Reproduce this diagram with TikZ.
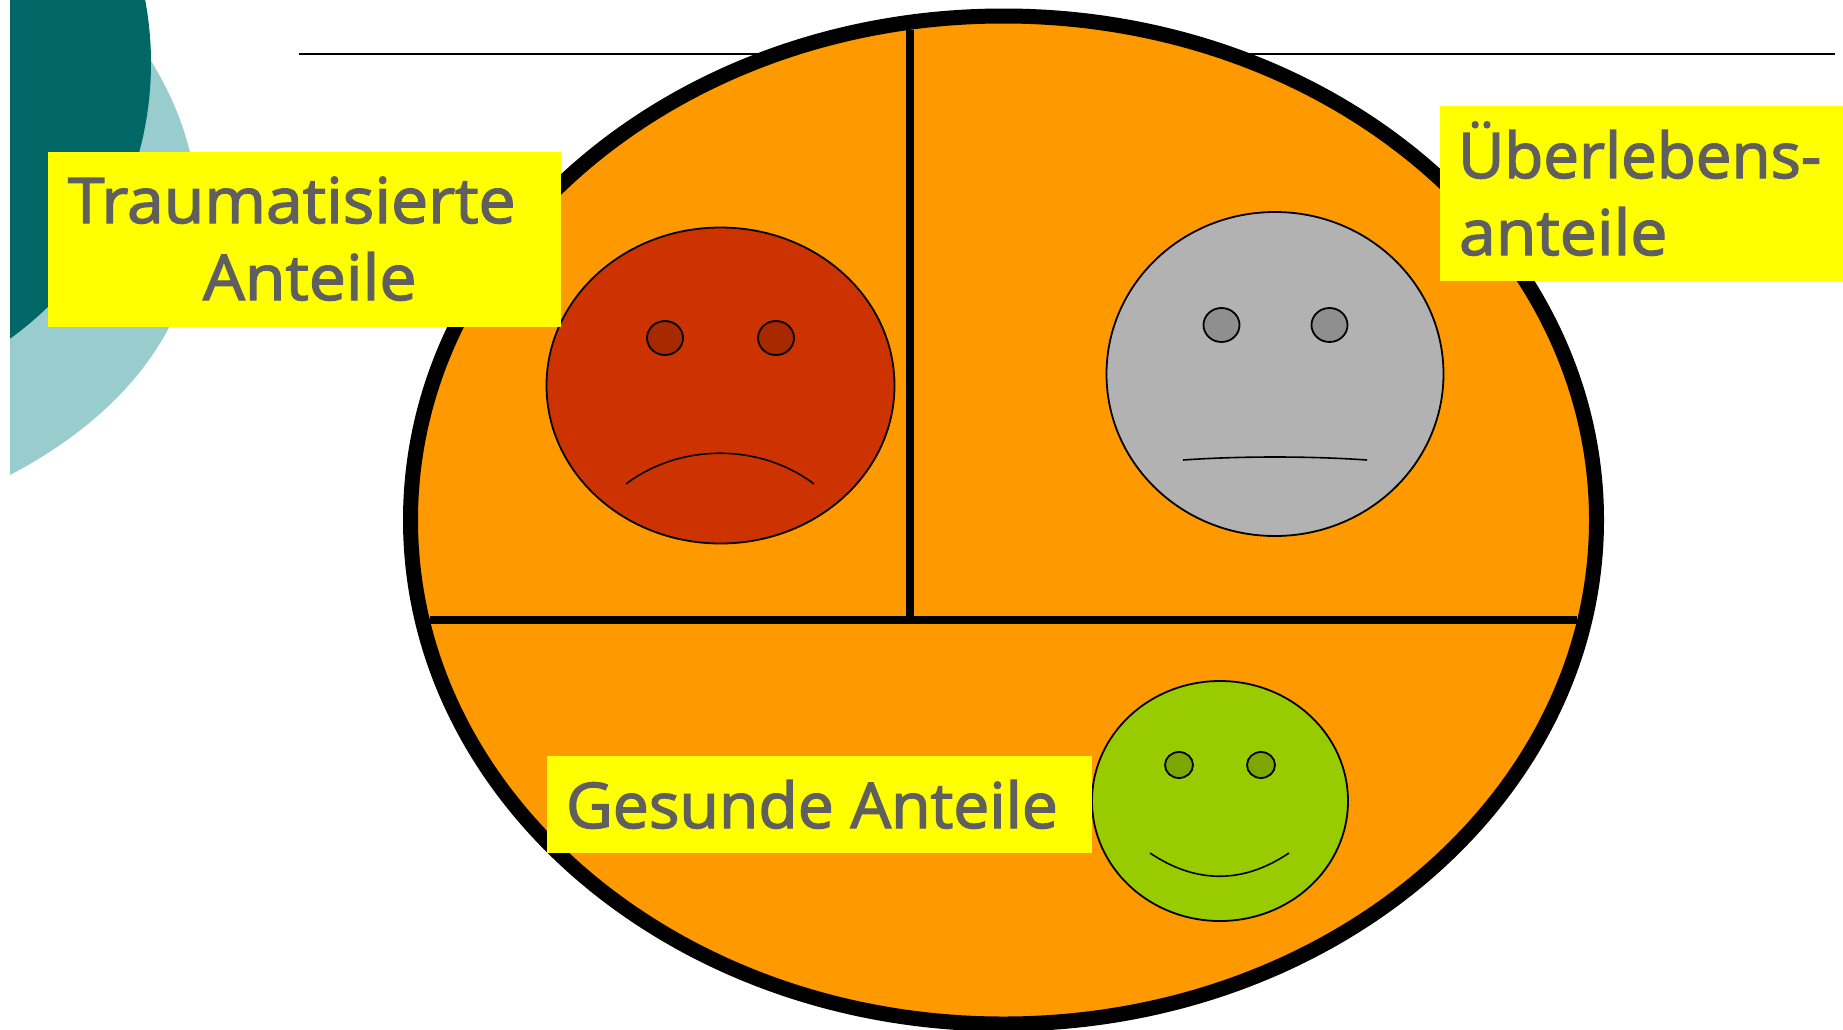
\documentclass[tikz,border=0pt]{standalone}
\usepackage{fontspec}
\setmainfont{Open Sans}
\newfontfamily\labA[FakeBold=2.2,FakeStretch=1.05]{Open Sans}
\newfontfamily\labU[FakeBold=2.2,FakeStretch=1.01]{Open Sans}
\newfontfamily\labG[FakeBold=2.2,FakeStretch=1.02]{Open Sans}
\usetikzlibrary{shapes.geometric}
\definecolor{tealdark}{HTML}{006666}
\definecolor{teallight}{HTML}{99CCCC}
\definecolor{orangefill}{HTML}{FF9900}
\definecolor{redface}{HTML}{CC3300}
\definecolor{redeye}{HTML}{A62900}
\definecolor{greyface}{HTML}{B2B2B2}
\definecolor{greyeye}{HTML}{8F8F8F}
\definecolor{greenface}{HTML}{99CC00}
\definecolor{greeneye}{HTML}{7CA600}
\definecolor{labeltext}{HTML}{5F5F5F}
\definecolor{labelfill}{HTML}{FFFF00}
\tikzset{
  x=0.5pt,y=-0.5pt,
  ring/.style={ellipse,draw=black,fill=orangefill,line width=7.5pt,inner sep=0pt,outer sep=0pt,minimum width=593pt,minimum height=504pt},
  divider/.style={draw=black,line width=3.7pt},
  mouth/.style={draw=black,line width=0.8pt},
  faceshape/.style={ellipse,draw=black,line width=0.9pt,inner sep=0pt,outer sep=0pt},
  yellowbox/.style={fill=labelfill,inner sep=0pt,outer sep=0pt,anchor=north west},
  lab/.style={text=labeltext,inner sep=0pt,outer sep=0pt,anchor=base west},
  labsize/.style={font=#1\fontsize{31.5pt}{31.5pt}\selectfont},
}
\begin{document}
\begin{tikzpicture}
\useasboundingbox (0,0) rectangle (1843,1029);
% teal background shapes
\begin{scope}
  \clip (10,0) rectangle (400,600);
  \fill[teallight] (130,30) .. controls (250,190) and (210,370) .. (10,475) -- (-10,475) -- (-10,30) -- cycle;
  \fill[tealdark] (-189,63) circle[radius=170pt];
\end{scope}
% rule
\coordinate (ruleL) at (298.5,54);
\coordinate (ruleR) at (1835,54);
\draw[line width=1.25pt] (ruleL) -- (ruleR);
% big ellipse
\node[ring] (big) at (1003.5,520) {};
% dividers
\coordinate (vTop) at (910,30);
\coordinate (hL) at (430,620);
\coordinate (hR) at (1577,620);
\coordinate (vBot) at (910,620);
\draw[divider] (vTop) -- (vBot);
\draw[divider] (hL) -- (hR);
% red face
\node[faceshape,fill=redface,minimum width=174pt,minimum height=158pt] (redF) at (720.5,385.5) {};
\node[faceshape,fill=redeye,minimum width=18pt,minimum height=17pt] (redEyeL) at (665,338) {};
\node[faceshape,fill=redeye,minimum width=18pt,minimum height=17pt] (redEyeR) at (776,338) {};
\coordinate (rmL) at (626,484); \coordinate (rmR) at (814,484);
\draw[mouth] (rmL) .. controls (680,443) and (760,443) .. (rmR);
% grey face
\node[faceshape,fill=greyface,minimum width=168.5pt,minimum height=162pt] (greyF) at (1275,374) {};
\node[faceshape,fill=greyeye,minimum width=18pt,minimum height=17pt] (greyEyeL) at (1221.5,325) {};
\node[faceshape,fill=greyeye,minimum width=18pt,minimum height=17pt] (greyEyeR) at (1329.5,325) {};
\coordinate (gmL) at (1183,460); \coordinate (gmR) at (1367,460);
\draw[mouth] (gmL) .. controls (1240,456) and (1310,456) .. (gmR);
% green face
\node[faceshape,fill=greenface,minimum width=128pt,minimum height=120pt] (greenF) at (1220,801) {};
\node[faceshape,fill=greeneye,minimum width=14pt,minimum height=13pt] (greenEyeL) at (1179,765) {};
\node[faceshape,fill=greeneye,minimum width=14pt,minimum height=13pt] (greenEyeR) at (1261,765) {};
\coordinate (smL) at (1150,853); \coordinate (smR) at (1289,853);
\draw[mouth] (smL) .. controls (1196,884) and (1243,884) .. (smR);
% label boxes
\node[yellowbox,minimum width=256.5pt,minimum height=87.5pt] (boxT) at (48,152) {};
\node[yellowbox,minimum width=201.5pt,minimum height=87.5pt] (boxU) at (1440,106) {};
\node[yellowbox,minimum width=272.5pt,minimum height=48.5pt] (boxG) at (547,756) {};
% labels
\node[lab,labsize=\labA] (t1) at (68,223) {Traumatisierte};
\node[lab,labsize=\labA] (t2) at (203,300) {Anteile};
\node[lab,labsize=\labU] (u1) at (1458,178) {Überlebens-};
\node[lab,labsize=\labA] (u2) at (1459,255) {anteile};
\node[lab,labsize=\labG] (g1) at (566,828) {Gesunde Anteile};
\end{tikzpicture}
\end{document}
